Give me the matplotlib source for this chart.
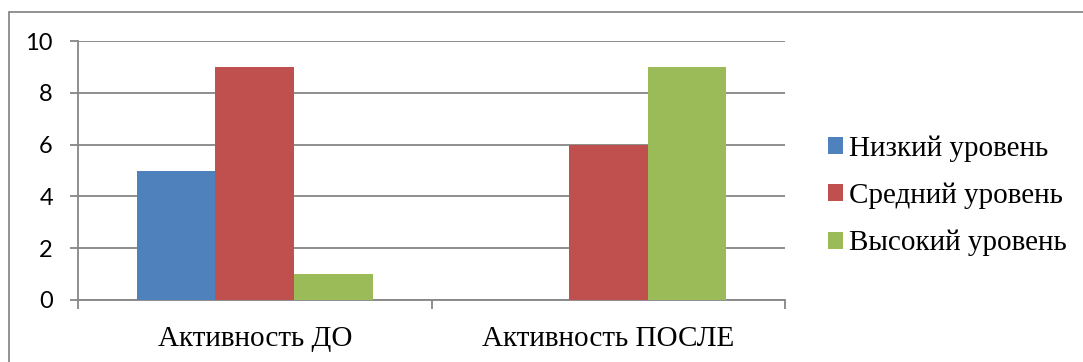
import numpy as np
import matplotlib.pyplot as plt
from matplotlib.patches import Rectangle

categories = ['Активность ДО', 'Активность ПОСЛЕ']
series = ['Низкий уровень', 'Средний уровень', 'Высокий уровень']
low = [5, 0]
mid = [9, 6]
high = [1, 9]
colors = ['#4F81BD', '#C0504D', '#9BBB59']
grid_c = '#868686'

fig = plt.figure(figsize=(10.83, 3.62), dpi=100)
ax = fig.add_axes([78/1083, 1-300/362, (785-78)/1083, (300-41)/362])

x = np.arange(len(categories))
w = 1/4.5  # gap width 150%
for i, (vals, name) in enumerate(zip([low, mid, high], series)):
    ax.bar(x + (i-1)*w, vals, w, color=colors[i], label=name, zorder=3)

ax.set_xlim(-0.5, 1.5)
ax.set_ylim(0, 10)
ax.set_yticks(np.arange(0, 11, 2))
ax.yaxis.grid(True, color=grid_c, linewidth=1.3, zorder=0)
for s in ['top', 'right']:
    ax.spines[s].set_visible(False)
for s in ['left', 'bottom']:
    ax.spines[s].set_color(grid_c)
    ax.spines[s].set_linewidth(1.3)

serif = ['Liberation Serif', 'DejaVu Serif']
ax.set_xticks(x)
ax.set_xticklabels(categories, family=serif, fontsize=21)
ax.set_xticks([-0.5, 0.5, 1.5], minor=True)
ax.tick_params(axis='x', which='major', length=0, pad=19)
ax.tick_params(axis='x', which='minor', length=6.5, width=1.3, color=grid_c)
ax.tick_params(axis='y', length=6, width=1.3, color=grid_c, pad=12)
for t in ax.get_yticklabels():
    t.set_fontfamily('Lato')
    t.set_fontsize(17)

ax.legend(loc='center left', bbox_to_anchor=(802/1083, 1-196/362),
          bbox_transform=fig.transFigure, frameon=False,
          prop={'family': serif, 'size': 21},
          handlelength=0.51, handleheight=0.51, handletextpad=0.2,
          labelspacing=0.71)

fig.patches.append(Rectangle((9/1083, -0.1), 1.2, 1-12/362+0.1,
                             transform=fig.transFigure, fill=False,
                             edgecolor='#898989', linewidth=1.3))

plt.savefig('out.png', dpi=100)
